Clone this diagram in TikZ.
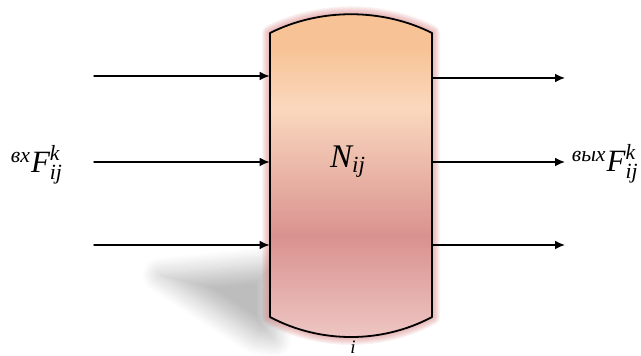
\documentclass[tikz,border=0pt]{standalone}
\usepackage{amsmath}
\usepackage{fontspec}
\setmainfont{Liberation Serif}
\newfontfamily\labelfont{Liberation Serif}
\usepackage{xcolor}
\usepackage{tikz}
\usetikzlibrary{arrows.meta,positioning,calc,shadows.blur}
\definecolor{peach}{HTML}{F7C396}
\definecolor{lightpeach}{HTML}{FAD8BE}
\definecolor{rose}{HTML}{D9928F}
\definecolor{palerose}{HTML}{EFC9C6}
\definecolor{glowred}{HTML}{D06A6A}
\definecolor{ink}{HTML}{000000}
\pgfdeclareverticalshading{vesselfill}{100bp}{color(0bp)=(palerose); color(25bp)=(palerose);
  color(41bp)=(rose); color(60bp)=(lightpeach); color(69bp)=(peach); color(75bp)=(peach); color(100bp)=(peach)}
\newcommand\lblit[1]{\text{\labelfont\itshape #1}}
\tikzset{
    every picture/.style={line cap=round,line join=round},
    flowarrow/.style={-{Latex[length=5pt,width=4.4pt]},draw=ink,line width=0.7pt},
    vesselline/.style={draw=ink,line width=0.9pt},
    glowline/.style={draw=glowred,line join=round},
    castshadow/.style={blur shadow={shadow xshift=0pt,shadow yshift=0pt,
      shadow blur radius=9pt,shadow blur steps=16,shadow opacity=26}},
    flowlabel/.style={inner sep=1pt,font=\labelfont\fontsize{15.5}{18}\selectfont},
    bodylabel/.style={inner sep=1pt,font=\labelfont\fontsize{16.5}{20}\selectfont},
    indexlabel/.style={inner sep=0pt,font=\labelfont\fontsize{9.5}{12}\selectfont\itshape}
}

\begin{document}
\begin{tikzpicture}[x=0.5pt,y=-0.5pt]
  \useasboundingbox (0,0) rectangle (641,356);
  % shadow behind the vessel
  \path[castshadow] (160,275) -- (274,264) -- (274,340) -- (256,337) -- cycle;
  % vessel body
  \node[minimum width=81pt,minimum height=142pt,inner sep=0pt] (vessel) at (351,175) {};
  \foreach \w in {1,...,8}{
    \path[glowline,line width=\w pt,opacity=0.08] (270,33) .. controls (320,8) and (382,8) .. (432,33)
      -- (432,317) .. controls (382,343.7) and (320,343.7) .. (270,317) -- cycle;}
  \shade[shading=vesselfill,vesselline] (270,33) .. controls (320,8) and (382,8) .. (432,33)
    -- (432,317) .. controls (382,343.7) and (320,343.7) .. (270,317) -- cycle;
  \node[bodylabel] (Nij) at (348,162) {$\lblit{N}_{\lblit{ij}}$};
  \node[indexlabel,anchor=base] (idx) at (353,354) {i};
  % flows in and out
  \foreach \y [count=\i] in {76,162,245}{
    \coordinate (in\i) at (94,\y);
    \draw[flowarrow] (in\i) -- (in\i -| vessel.west);}
  \foreach \y [count=\i] in {78,162,245}{
    \coordinate (out\i) at (565,\y);
    \draw[flowarrow] (out\i -| vessel.east) -- (out\i);}
  \node[flowlabel] (Fin) at (37,165) {$^{\lblit{вх}}\lblit{F}_{\lblit{ij}}^{\lblit{k}}$};
  \node[flowlabel,anchor=east] (Fout) at (641,164) {$^{\lblit{вых}}\lblit{F}_{\lblit{ij}}^{\lblit{k}}$};
\end{tikzpicture}
\end{document}
